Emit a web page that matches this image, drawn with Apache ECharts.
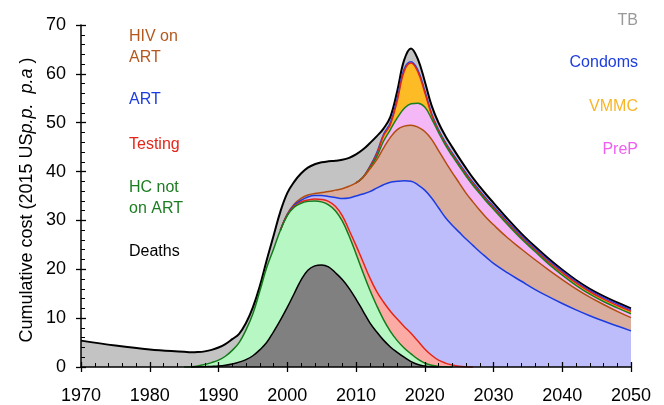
<!DOCTYPE html>
<html>
<head>
<meta charset="utf-8">
<script src="https://cdn.jsdelivr.net/npm/echarts@6/dist/echarts.min.js"></script>
<style>
html, body { margin: 0; padding: 0; background: #fff; }
#chart { width: 664px; height: 405px; }
</style>
</head>
<body>
<div id="chart"></div>
<script>
const chart = echarts.init(document.getElementById('chart'));

// x positions: 1970, 1975, 1980, then yearly 1985..2030, then every 2 years to 2050
const years = [1970, 1975, 1980,
    1985, 1986, 1987, 1988, 1989, 1990, 1991, 1992, 1993, 1994, 1995,
    1996, 1997, 1998, 1999, 2000, 2001, 2002, 2003, 2004, 2005,
    2006, 2007, 2008, 2009, 2010, 2011, 2012, 2013, 2014, 2015,
    2016, 2017, 2018, 2019, 2020, 2021, 2022, 2023, 2024, 2025,
    2026, 2027, 2028, 2029, 2030,
    2032, 2034, 2036, 2038, 2040, 2042, 2044, 2046, 2048, 2050];

// cumulative level of the top edge of each band
const tbTop = [5.4, 4.4, 3.6,
    3.1, 3.0, 3.05, 3.2, 3.5, 4.0, 4.7, 5.7, 6.8, 9.0, 12.2,
    16.5, 21.8, 26.8, 31.8, 35.6, 37.9, 39.6, 40.8, 41.5, 41.9,
    42.1, 42.2, 42.4, 42.8, 43.5, 44.5, 45.8, 47.2, 48.8, 51.2,
    56.5, 62.8, 65.2, 63.0, 58.5, 53.5, 50.0, 47.3, 45.0, 42.8,
    40.7, 38.7, 36.9, 35.2, 33.6,
    30.4, 27.4, 24.7, 22.2, 19.9, 17.8, 16.0, 14.5, 13.2, 12.0];
const condomsTop = [null, null, null,
    null, null, null, null, null, null, null, null, null, null, null,
    null, null, null, null, null, null, null, null, null, null,
    null, null, null, null, 37.7, 38.8, 41.0, 43.8, 47.6, 50.0,
    55.0, 61.0, 62.5, 60.8, 56.6, 51.9, 48.6, 46.0, 43.8, 41.7,
    39.7, 37.8, 36.1, 34.4, 32.9,
    29.8, 26.9, 24.3, 21.8, 19.6, 17.5, 15.7, 14.2, 12.9, 11.7];
const vmmcTop = [null, null, null,
    null, null, null, null, null, null, null, null, null, null, null,
    null, null, null, null, null, null, null, null, null, null,
    null, null, null, null, 37.7, 38.8, 40.9, 43.5, 47.3, 49.6,
    54.5, 60.5, 62.2, 60.4, 56.2, 51.6, 48.3, 45.7, 43.5, 41.4,
    39.4, 37.5, 35.8, 34.1, 32.6,
    29.5, 26.6, 24.0, 21.5, 19.3, 17.2, 15.4, 13.9, 12.6, 11.4];
const prepTop = [null, null, null,
    null, null, null, null, null, null, null, null, null, null, null,
    null, null, null, null, null, null, null, null, null, null,
    null, null, null, null, 37.7, 38.8, 40.7, 43.0, 46.2, 48.6,
    51.0, 52.9, 53.9, 54.0, 53.2, 50.8, 48.0, 45.4, 43.2, 41.1,
    39.1, 37.2, 35.5, 33.8, 32.3,
    29.2, 26.3, 23.7, 21.1, 18.8, 16.7, 14.9, 13.4, 12.1, 10.9];
const hivArtTop = [null, null, null,
    null, null, null, null, null, null, null, null, null, null, null,
    null, null, null, 28.0, 31.3, 33.3, 34.5, 35.2, 35.5, 35.7,
    35.9, 36.2, 36.5, 37.0, 37.7, 38.8, 40.5, 42.4, 44.8, 47.0,
    48.6, 49.3, 49.5, 49.1, 48.2, 46.6, 44.3, 42.0, 39.8, 37.7,
    35.6, 33.8, 32.1, 30.5, 29.1,
    26.5, 24.2, 22.0, 19.9, 17.9, 16.0, 14.3, 12.8, 11.4, 10.1];
const artTop = [null, null, null,
    null, null, null, null, null, null, null, null, null, null, null,
    null, null, null, 28.0, 31.2, 33.1, 34.1, 34.8, 35.1, 35.1,
    34.9, 34.7, 34.5, 34.6, 35.0, 35.4, 35.9, 36.6, 37.3, 37.8,
    38.0, 38.1, 38.0, 37.3, 36.2, 34.6, 32.6, 30.6, 29.0, 27.6,
    26.2, 24.9, 23.6, 22.4, 21.2,
    19.3, 17.6, 15.9, 14.4, 13.0, 11.7, 10.5, 9.4, 8.4, 7.4];
const testingTop = [null, null, null,
    null, null, null, null, null, null, null, null, null, null, null,
    null, null, null, 28.0, 31.1, 32.9, 33.8, 34.2, 34.4, 34.3,
    33.9, 32.9, 31.0, 28.0, 24.9, 21.6, 18.3, 15.5, 13.3, 11.4,
    9.8, 8.3, 6.9, 5.3, 3.7, 2.4, 1.4, 0.8, 0.4, 0.15,
    0.05, 0, null, null, null,
    null, null, null, null, null, null, null, null, null, null];
const hcTop = [null, null, null,
    0, 0.05, 0.2, 0.5, 0.9, 1.4, 2.2, 3.4, 5.0, 7.6, 10.9,
    15.5, 20.3, 24.1, 28.0, 31.0, 32.7, 33.5, 33.9, 34.0, 33.8,
    33.2, 32.0, 29.9, 26.8, 23.2, 19.4, 15.8, 12.6, 9.7, 7.3,
    5.4, 3.9, 2.7, 1.6, 0.8, 0.35, 0.12, 0.03, 0, null,
    null, null, null, null, null,
    null, null, null, null, null, null, null, null, null, null];
const deathsTop = [null, null, null,
    null, 0, 0.02, 0.06, 0.12, 0.2, 0.35, 0.6, 1.0, 1.5, 2.3,
    3.5, 5.0, 7.2, 9.6, 12.2, 15.0, 17.8, 19.8, 20.7, 20.9,
    20.5, 19.3, 17.9, 16.1, 13.9, 11.5, 9.1, 7.2, 5.5, 4.1,
    3.0, 2.0, 1.1, 0.5, 0.2, 0.05, 0, null, null, null,
    null, null, null, null, null,
    null, null, null, null, null, null, null, null, null, null];

const FONT = '"Liberation Sans", Arial, sans-serif';

// drawn top band first, lower bands painted over it
const bands = [
    { name: 'TB', data: tbTop, fill: '#c3c3c3', line: '#000000', w: 2 },
    { name: 'Condoms', data: condomsTop, fill: '#bcbdfa', line: '#2a3fe0', w: 1.5 },
    { name: 'VMMC', data: vmmcTop, fill: '#fdbb26', line: '#e3261a', w: 1.5 },
    { name: 'PreP', data: prepTop, fill: '#f5b8f6', line: '#17801c', w: 1.5 },
    { name: 'HIV on ART', data: hivArtTop, fill: '#d9ae9e', line: '#b24c10', w: 1.5 },
    { name: 'ART', data: artTop, fill: '#bcbdfa', line: '#1d3ce0', w: 1.5 },
    { name: 'Testing', data: testingTop, fill: '#fbaba4', line: '#e3261a', w: 1.5 },
    { name: 'HC not on ART', data: hcTop, fill: '#b6f7c4', line: '#137a1a', w: 1.5 },
    { name: 'Deaths', data: deathsTop, fill: '#808080', line: '#000000', w: 1.5 }
];

function label(text, x, y, color, align) {
    return {
        type: 'text',
        x: x,
        y: y,
        z: 20,
        style: {
            text: text,
            fill: color,
            font: '16px ' + FONT,
            align: align || 'left',
            verticalAlign: 'middle',
            lineHeight: 21
        }
    };
}

// major ticks cross the axis: outside half on the labelled axis,
// inside half (with the minor ticks) on a twin axis
function mainAxis(min, max, pos) {
    return {
        type: 'value',
        position: pos,
        min: min,
        max: max,
        interval: 10,
        z: 10,
        axisLine: { show: true, onZero: false, lineStyle: { color: '#000', width: 1.5 } },
        axisTick: { show: true, length: 5, lineStyle: { color: '#000', width: 1.3 } },
        axisLabel: {
            color: '#000', fontSize: 18, fontFamily: FONT, margin: pos === 'left' ? 15 : 20,
            formatter: function (v) { return String(v); }
        },
        splitLine: { show: false }
    };
}
function twinAxis(min, max, pos) {
    return {
        type: 'value',
        position: pos,
        min: min,
        max: max,
        interval: 10,
        z: 11,
        axisLine: { show: false, onZero: false },
        axisTick: { show: true, inside: true, length: 5, lineStyle: { color: '#000', width: 1.3 } },
        minorTick: { show: true, splitNumber: 5, length: 4, lineStyle: { color: '#000', width: 1 } },
        axisLabel: { show: false },
        splitLine: { show: false }
    };
}

const option = {
    animation: false,
    grid: { left: 81, right: 33, top: 25, bottom: 37 },
    xAxis: [mainAxis(1970, 2050, 'bottom'), twinAxis(1970, 2050, 'bottom')],
    yAxis: [mainAxis(0, 70, 'left'), twinAxis(0, 70, 'left')],
    series: bands.map(function (b) {
        return {
            name: b.name,
            type: 'line',
            smooth: 0.4,
            showSymbol: false,
            connectNulls: false,
            data: years.map(function (yr, i) { return [yr, b.data[i]]; }),
            lineStyle: { color: b.line, width: b.w },
            areaStyle: { color: b.fill, opacity: 1 },
            silent: true
        };
    }),
    graphic: [
        label('HIV on\nART', 129, 47, '#b4581f'),
        label('ART', 129, 100, '#1d3ce0'),
        label('Testing', 129, 145, '#e3261a'),
        label('HC not\non ART', 129, 198, '#1d7d22'),
        label('Deaths', 129, 252, '#000000'),
        label('TB', 638, 21, '#999999', 'right'),
        label('Condoms', 638, 63, '#1d3ce0', 'right'),
        label('VMMC', 638, 107, '#f7b52a', 'right'),
        label('PreP', 638, 150, '#f060f0', 'right'),
        {
            type: 'text',
            x: 27,
            y: 200,
            rotation: Math.PI / 2,
            style: {
                text: '{n|Cumulative cost (2015 US}{i|p.p.  p.a}{n| )}',
                align: 'center',
                verticalAlign: 'middle',
                rich: {
                    n: { fontSize: 18, fontFamily: FONT, fill: '#000' },
                    i: { fontSize: 18, fontFamily: FONT, fontStyle: 'italic', fill: '#000' }
                }
            }
        }
    ]
};
chart.setOption(option);
</script>
</body>
</html>
